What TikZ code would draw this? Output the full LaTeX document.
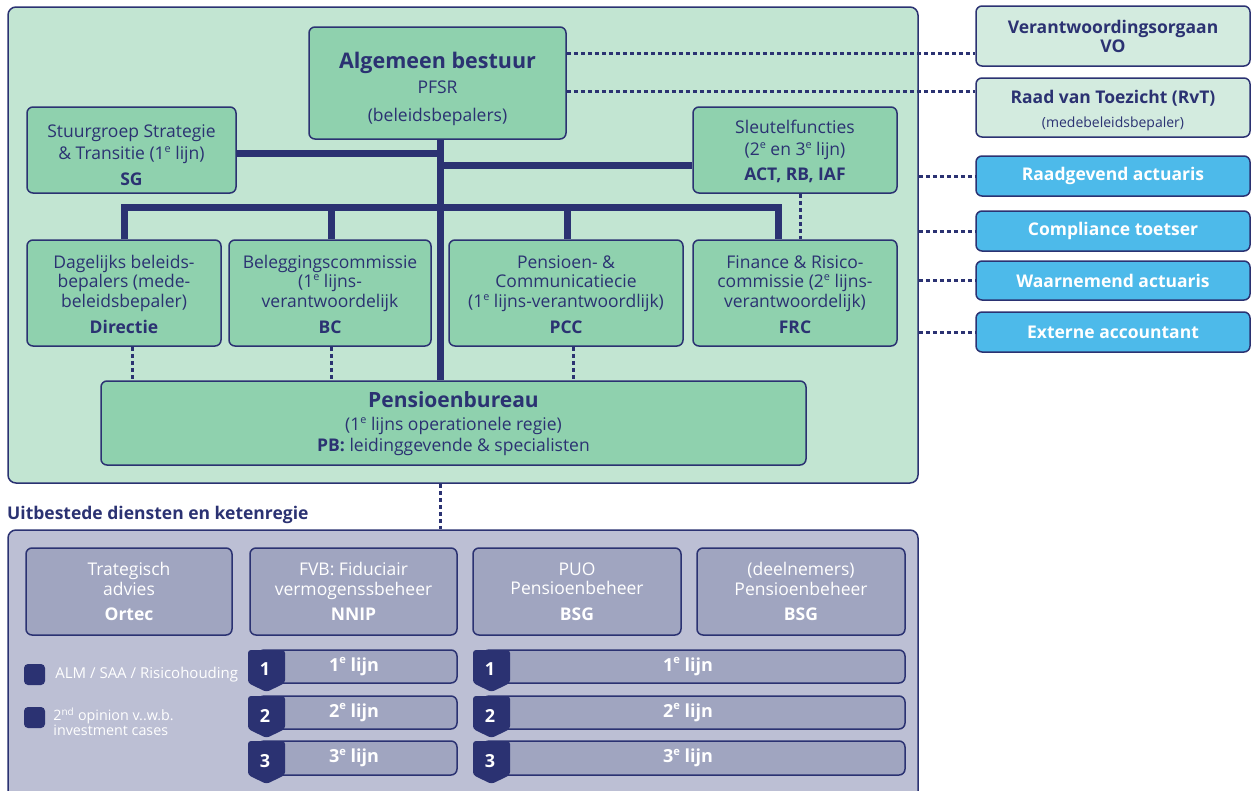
\documentclass[tikz,border=0pt]{standalone}
\usepackage{fontspec}
\setmainfont{Open Sans}
\definecolor{navy}{HTML}{2B3272}
\definecolor{greenbg}{HTML}{C2E5D2}
\definecolor{greenbox}{HTML}{8FD1AE}
\definecolor{paleg}{HTML}{D3EBDF}
\definecolor{skyb}{HTML}{4DBAEA}
\definecolor{greybg}{HTML}{BCBFD4}
\definecolor{greybox}{HTML}{A0A5C0}
\newcommand\supe[1]{\raisebox{0.75ex}{\scalebox{0.62}{#1}}}
\begin{document}
\begin{tikzpicture}[x=1pt,y=-1pt,
  box/.style={draw=navy, line width=1.5pt, rounded corners=6pt, align=center, inner sep=0pt, text=navy, font=\fontsize{17.5}{19.5}\selectfont},
  txt/.style={align=center, inner sep=0pt, text=navy, font=\fontsize{17.5}{19.5}\selectfont},
  gbox/.style={box, fill=greenbox},
  pbox/.style={box, fill=paleg},
  bbox/.style={box, fill=skyb, text=white, font=\fontsize{17.5}{20}\bfseries\selectfont},
  wbox/.style={box, fill=greybox, text=white},
  barbox/.style={box, fill=greybox, text=white},
  thick line/.style={draw=navy, line width=7pt},
  dotline/.style={draw=navy, line width=3pt, dash pattern=on 4pt off 3pt},
  num/.style={text=white, font=\fontsize{18}{20}\bfseries\selectfont, inner sep=0pt},
  lijn/.style={text=white, font=\fontsize{18}{20}\bfseries\selectfont, inner sep=0pt}
]
\useasboundingbox (0,0) rectangle (1257,790);
% containers
\node[box, fill=greenbg, rounded corners=8pt, minimum width=910pt, minimum height=476pt] (main) at (463,245) {};
\node[box, fill=greybg, rounded corners=8pt, minimum width=910pt, minimum height=280pt] (sub) at (463,670) {};
\node[anchor=west, text=navy, font=\fontsize{17.5}{19}\bfseries\selectfont, inner sep=0pt] (subtitle) at (7,515) {Uitbestede diensten en ketenregie};

% coordinates for connectors
\coordinate (tx) at (440,0);
\coordinate (hb) at (0,207);
\coordinate (c1) at (124,0);
\coordinate (c2) at (331,0);
\coordinate (c3) at (567,0);
\coordinate (c4) at (778,0);
\coordinate (ysg) at (0,153);
\coordinate (ysf) at (0,165);

% boxes
\node[gbox, minimum width=257pt, minimum height=112pt] (ab) at (437.5,83) {};
\node[gbox, minimum width=705pt, minimum height=84pt] (pb) at (453.5,423) {};
\node[gbox, minimum width=209pt, minimum height=86pt] (sg) at (131.5,150) {};
\node[gbox, minimum width=204pt, minimum height=86pt] (sf) at (795,150) {};
\node[gbox, minimum width=194pt, minimum height=106pt] (dir) at (124,293) {};
\node[gbox, minimum width=202pt, minimum height=106pt] (bc) at (330,293) {};
\node[gbox, minimum width=234pt, minimum height=106pt] (pcc) at (566,293) {};
\node[gbox, minimum width=204pt, minimum height=106pt] (frc) at (795,293) {};

% thick connectors
\draw[thick line] (ab.south -| tx) -- (pb.north -| tx);
\draw[thick line] (sg.east |- ysg) -- (tx |- ysg);
\draw[thick line] (tx |- ysf) -- (sf.west |- ysf);
\draw[thick line, line join=miter] (dir.north -| c1) -- (c1 |- hb) -- (c4 |- hb) -- (frc.north -| c4);
\draw[thick line] (c2 |- hb) -- (bc.north -| c2);
\draw[thick line] (c3 |- hb) -- (pcc.north -| c3);

% texts
\node[txt] (abt) at ([yshift=-6pt]ab.center) {{\fontsize{21.5}{24}\bfseries\selectfont Algemeen bestuur}\\[5pt]PFSR\\[9pt](beleidsbepalers)};
\node[txt] (sgt) at ([yshift=-5pt]sg.center) {Stuurgroep Strategie\\[3pt]\& Transitie (1\supe{e} lijn)\\[6pt]\textbf{SG}};
\node[txt] (sft) at ([yshift=-1.5pt]sf.center) {Sleutelfuncties\\[2pt](2\supe{e} en 3\supe{e} lijn)\\[6pt]\textbf{ACT, RB, IAF}};
\node[txt] (dirt) at ([yshift=-1.5pt]dir.center) {Dagelijks beleids-\\bepalers (mede-\\beleidsbepaler)\\[7pt]\textbf{Directie}};
\node[txt] (bct) at ([yshift=-1.5pt]bc.center) {Beleggingscommissie\\(1\supe{e} lijns-\\verantwoordelijk\\[7pt]\textbf{BC}};
\node[txt] (pcct) at ([yshift=-1.5pt]pcc.center) {Pensioen- \&\\Communicatiecie\\(1\supe{e} lijns-verantwoordlijk)\\[7pt]\textbf{PCC}};
\node[txt] (frct) at ([yshift=-1.5pt]frc.center) {Finance \& Risico-\\commissie (2\supe{e} lijns-\\verantwoordelijk)\\[7pt]\textbf{FRC}};
\node[txt] (pbt) at ([yshift=-1pt]pb.center) {{\fontsize{21}{23}\bfseries\selectfont Pensioenbureau}\\[3pt](1\supe{e} lijns operationele regie)\\[2pt]\textbf{PB:} leidinggevende \& specialisten};

% dotted connectors inside
\coordinate (d1) at (132,0);
\coordinate (d2) at (331,0);
\coordinate (d3) at (573,0);
\coordinate (d4) at (800,0);
\draw[dotline] (dir.south -| d1) -- (pb.north -| d1);
\draw[dotline] (bc.south -| d2) -- (pb.north -| d2);
\draw[dotline] (pcc.south -| d3) -- (pb.north -| d3);
\draw[dotline] (sf.south -| d4) -- (frc.north -| d4);
\draw[dotline] (main.south -| tx) -- (sub.north -| tx);

% right side boxes
\node[pbox, minimum width=274pt, minimum height=60pt, font=\fontsize{17.5}{19}\bfseries\selectfont] (vo) at (1113,36) {Verantwoordingsorgaan\\VO};
\node[pbox, minimum width=274pt, minimum height=59pt] (rvt) at (1113,107.5) {};
\node[txt] (rvtt) at ([yshift=-3pt]rvt.center) {{\fontsize{17.5}{19}\bfseries\selectfont Raad van Toezicht (RvT)}\\[4pt]{\fontsize{14}{15}\selectfont (medebeleidsbepaler)}};
\node[bbox, minimum width=274pt, minimum height=40pt] (ra) at (1113,176) {Raadgevend actuaris};
\node[bbox, minimum width=274pt, minimum height=40pt] (ct) at (1113,231) {Compliance toetser};
\node[bbox, minimum width=274pt, minimum height=39pt] (wa) at (1113,280.5) {Waarnemend actuaris};
\node[bbox, minimum width=274pt, minimum height=40pt] (ea) at (1113,332) {Externe accountant};

\coordinate (yvo) at (0,53);
\coordinate (yrv) at (0,91);
\draw[dotline] (ab.east |- yvo) -- (vo.west |- yvo);
\draw[dotline] (ab.east |- yrv) -- (rvt.west |- yrv);
\draw[dotline] (main.east |- ra) -- (ra.west);
\draw[dotline] (main.east |- ct) -- (ct.west);
\draw[dotline] (main.east |- wa) -- (wa.west);
\draw[dotline] (main.east |- ea) -- (ea.west);

% outsourced parties
\node[wbox, minimum width=206pt, minimum height=87pt] (ortec) at (129,591.5) {Trategisch\\advies\\[6pt]\textbf{Ortec}};
\node[wbox, minimum width=207pt, minimum height=87pt] (nnip) at (353.5,591.5) {FVB: Fiduciair\\vermogenssbeheer\\[6pt]\textbf{NNIP}};
\node[wbox, minimum width=208pt, minimum height=87pt] (puo) at (577,591.5) {PUO\\Pensioenbeheer\\[6pt]\textbf{BSG}};
\node[wbox, minimum width=208pt, minimum height=87pt] (dn) at (801,591.5) {(deelnemers)\\Pensioenbeheer\\[6pt]\textbf{BSG}};

% lines
\foreach \i/\yc/\h in {1/666.5/33, 2/712.5/33, 3/758/34} {
  \node[barbox, minimum width=199pt, minimum height=\h pt] (bl\i) at (357.5,\yc) {};
  \node[barbox, minimum width=422pt, minimum height=\h pt] (br\i) at (694,\yc) {};
  \node[lijn] at (bl\i.center -| 354,0) {\i\supe{e} lijn};
  \node[lijn] at (br\i.center -| 688,0) {\i\supe{e} lijn};
  \foreach \bx in {248,473} {
    \fill[navy, rounded corners=3pt] (\bx,\yc-\h/2) -- (\bx+37,\yc-\h/2) -- (\bx+37,\yc+\h/2) -- (\bx+18.5,\yc+\h/2+9) -- (\bx,\yc+\h/2) -- cycle;
    \node[num] at (\bx+17,\yc+3) {\i};
  }
}

% legend
\node[fill=navy, rounded corners=4pt, minimum size=21pt, inner sep=0pt] (l1) at (34.5,674.5) {};
\node[fill=navy, rounded corners=4pt, minimum size=21pt, inner sep=0pt] (l2) at (34.5,717.5) {};
\node[anchor=west, text=white, font=\fontsize{15}{16}\selectfont, inner sep=0pt] at ([xshift=10pt]l1.east) {ALM / SAA / Risicohouding};
\node[anchor=north west, text=white, font=\fontsize{14.3}{15}\selectfont, inner sep=0pt, align=left] at ([xshift=8pt,yshift=-1pt]l2.north east) {2\textsuperscript{nd} opinion v..w.b.\\investment cases};
\end{tikzpicture}
\end{document}
